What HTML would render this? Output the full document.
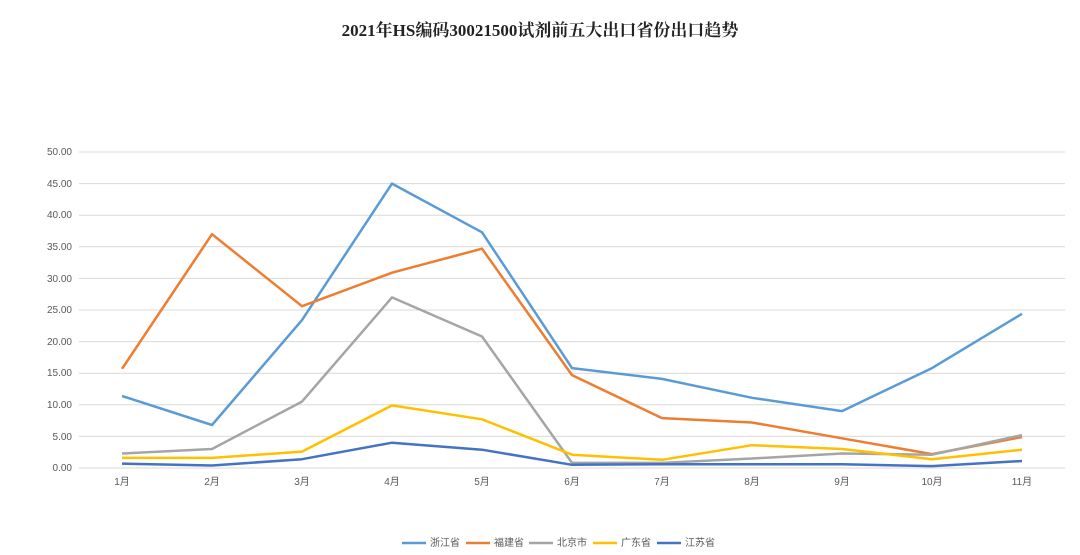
<!DOCTYPE html>
<html><head><meta charset="utf-8"><style>
html,body{margin:0;padding:0;background:#fff;width:1080px;height:555px;overflow:hidden}
svg{display:block}
text{font-family:"Liberation Sans","Noto Sans CJK SC",sans-serif}
</style></head><body>
<svg id="c" width="1080" height="555" xmlns="http://www.w3.org/2000/svg">
<text x="540" y="36" text-anchor="middle" font-family="Liberation Serif,Noto Serif CJK SC,serif" font-size="17" font-weight="bold" fill="#222" style="font-family:'Liberation Serif','Noto Serif CJK SC',serif">2021年HS编码30021500试剂前五大出口省份出口趋势</text>
<g id="grid" stroke="#d9d9d9" stroke-width="1"></g>
<g id="yl" font-size="10" fill="#595959" text-anchor="end">
<text x="72" y="155">50.00</text><text x="72" y="187">45.00</text><text x="72" y="218">40.00</text><text x="72" y="250">35.00</text><text x="72" y="282">30.00</text><text x="72" y="313">25.00</text><text x="72" y="345">20.00</text><text x="72" y="376">15.00</text><text x="72" y="408">10.00</text><text x="72" y="440">5.00</text><text x="72" y="471">0.00</text>
</g>
<g font-size="10" fill="#595959" text-anchor="middle">
<text x="122" y="485">1月</text><text x="212" y="485">2月</text><text x="302" y="485">3月</text><text x="392" y="485">4月</text><text x="482" y="485">5月</text><text x="572" y="485">6月</text><text x="662" y="485">7月</text><text x="752" y="485">8月</text><text x="842" y="485">9月</text><text x="932" y="485">10月</text><text x="1022" y="485">11月</text>
</g>
<g id="lines" fill="none" stroke-width="2.5" stroke-linejoin="round"></g>
<g font-size="10" fill="#595959">
<line x1="402" y1="543" x2="426" y2="543" stroke="#5b9bd5" stroke-width="2.5"/><text x="430" y="546">浙江省</text>
<line x1="466" y1="543" x2="490" y2="543" stroke="#ed7d31" stroke-width="2.5"/><text x="494" y="546">福建省</text>
<line x1="529" y1="543" x2="553" y2="543" stroke="#a5a5a5" stroke-width="2.5"/><text x="557" y="546">北京市</text>
<line x1="593" y1="543" x2="617" y2="543" stroke="#ffc000" stroke-width="2.5"/><text x="621" y="546">广东省</text>
<line x1="657" y1="543" x2="681" y2="543" stroke="#4472c4" stroke-width="2.5"/><text x="685" y="546">江苏省</text>
</g>
</svg>
<script>
var ns="http://www.w3.org/2000/svg";
var g=document.getElementById("grid");
for(var i=0;i<=10;i++){var y=468-i*31.6;var l=document.createElementNS(ns,"line");l.setAttribute("x1",79);l.setAttribute("x2",1065);l.setAttribute("y1",y);l.setAttribute("y2",y);g.appendChild(l);}
var S=[
["#5b9bd5",[11.4,6.8,23.4,45,37.3,15.8,14.1,11.1,9,15.8,24.4]],
["#ed7d31",[15.7,37,25.6,30.9,34.7,14.7,7.9,7.2,4.7,2.2,4.9]],
["#a5a5a5",[2.3,3.0,10.5,27,20.8,0.8,0.8,1.5,2.3,2.1,5.2]],
["#ffc000",[1.6,1.6,2.6,9.9,7.7,2.1,1.3,3.6,3.0,1.4,2.9]],
["#4472c4",[0.7,0.4,1.4,4.0,2.9,0.5,0.6,0.6,0.6,0.3,1.1]]];
var L=document.getElementById("lines");
S.forEach(function(s){var p=s[1].map(function(v,i){return (122+90*i)+","+(468-6.32*v).toFixed(1)}).join(" ");
var e=document.createElementNS(ns,"polyline");e.setAttribute("points",p);e.setAttribute("stroke",s[0]);L.appendChild(e);});
</script>
</body></html>
